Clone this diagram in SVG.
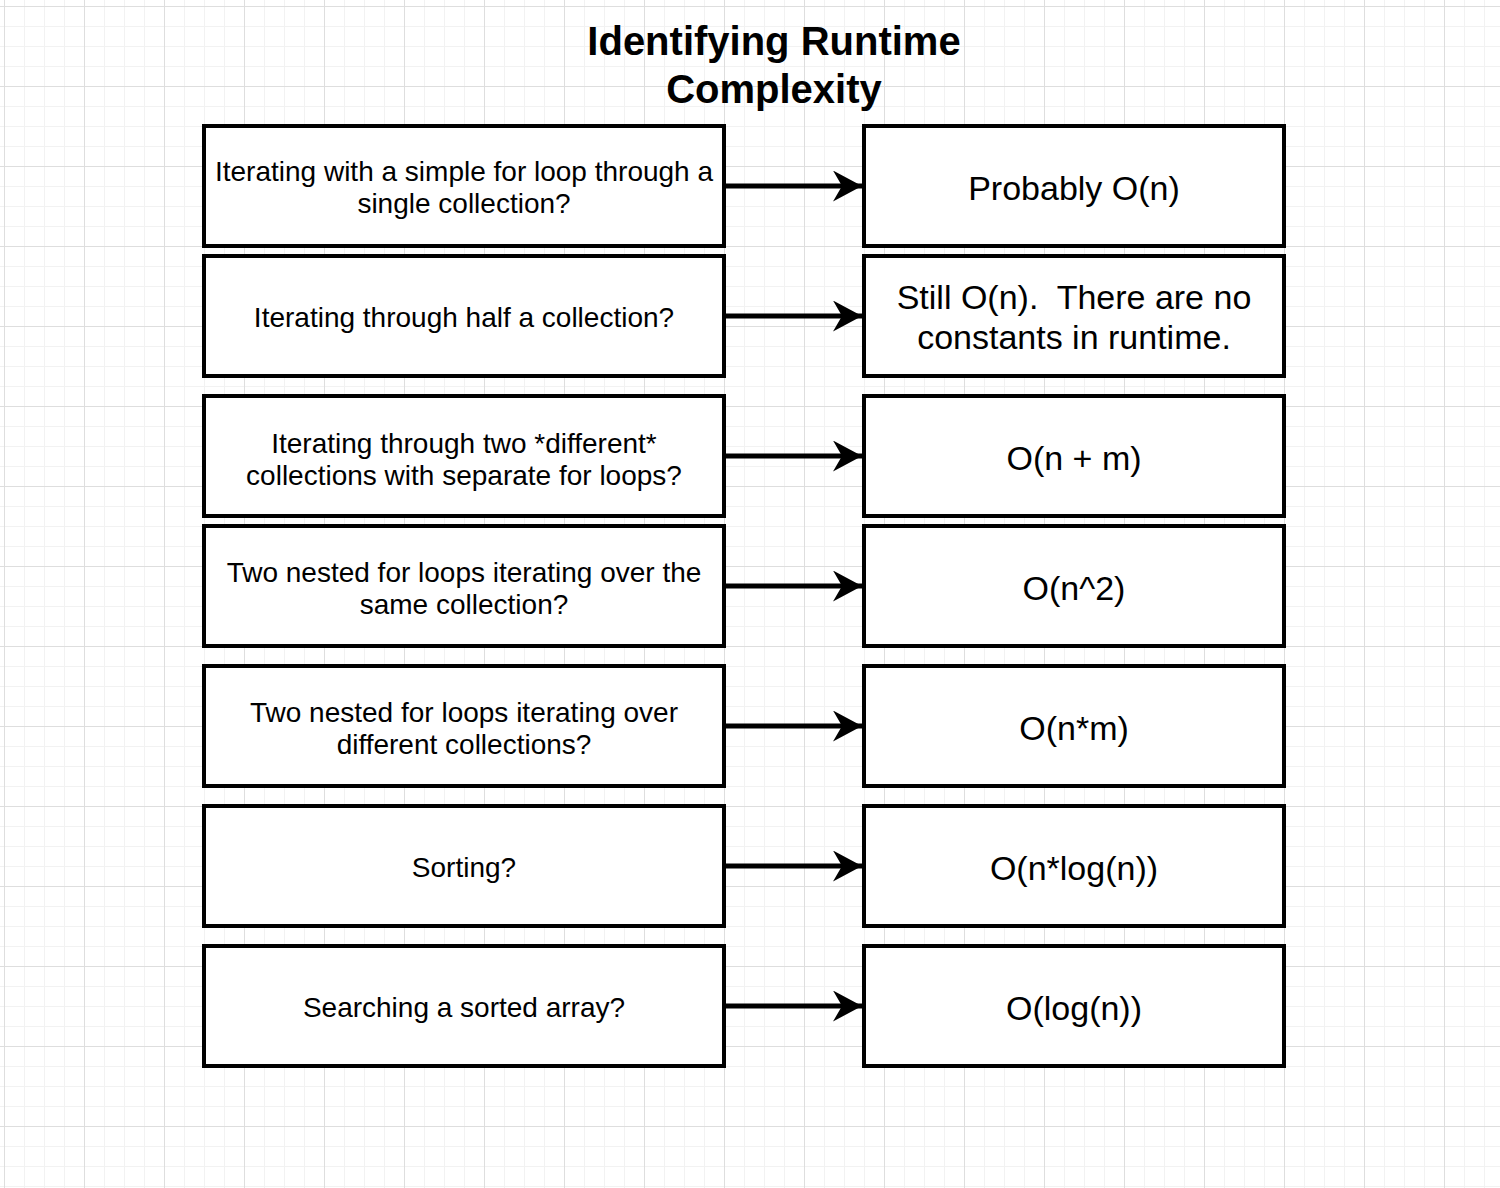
<svg xmlns="http://www.w3.org/2000/svg" width="1500" height="1188" viewBox="0 0 1500 1188">
<style>
.box{fill:#ffffff;stroke:#000000;stroke-width:4}
.q{font-family:"Liberation Sans",Arial,Helvetica,sans-serif;font-size:28px;fill:#000;text-anchor:middle}
.a{font-family:"Liberation Sans",Arial,Helvetica,sans-serif;font-size:34px;fill:#000;text-anchor:middle}
.title{font-family:"Liberation Sans",Arial,Helvetica,sans-serif;font-size:40px;font-weight:bold;fill:#000;text-anchor:middle}
.conn{stroke:#000;stroke-width:5;fill:none}
</style>
<defs>
<pattern id="minor" patternUnits="userSpaceOnUse" x="4" y="6" width="20" height="20">
<path d="M0,0 H20 M0,0 V20" stroke="#f2f2f2" stroke-width="2" fill="none"/>
</pattern>
<pattern id="major" patternUnits="userSpaceOnUse" x="4" y="6" width="80" height="80">
<path d="M0,0.5 H80 M0.5,0 V80" stroke="#dedede" stroke-width="1" fill="none"/>
</pattern>
<marker id="arrow" markerUnits="userSpaceOnUse" markerWidth="30" markerHeight="32" refX="29" refY="15.5" orient="auto">
<path d="M0,0 L29,15.5 L0,31 L9,15.5 Z" fill="#000"/>
</marker>
</defs>
<rect width="1500" height="1188" fill="#ffffff"/>
<rect width="1500" height="1188" fill="url(#minor)"/>
<rect width="1500" height="1188" fill="url(#major)"/>

<g id="title">
<text class="title" x="774" y="55">Identifying Runtime</text>
<text class="title" x="774" y="103">Complexity</text>
</g>

<g id="q1"><rect class="box" x="204" y="126" width="520" height="120"/>
<text class="q" x="464" y="181">Iterating with a simple for loop through a</text>
<text class="q" x="464" y="213">single collection?</text></g>
<g id="q2"><rect class="box" x="204" y="256" width="520" height="120"/>
<text class="q" x="464" y="327">Iterating through half a collection?</text></g>
<g id="q3"><rect class="box" x="204" y="396" width="520" height="120"/>
<text class="q" x="464" y="453">Iterating through two *different*</text>
<text class="q" x="464" y="485">collections with separate for loops?</text></g>
<g id="q4"><rect class="box" x="204" y="526" width="520" height="120"/>
<text class="q" x="464" y="582">Two nested for loops iterating over the</text>
<text class="q" x="464" y="614">same collection?</text></g>
<g id="q5"><rect class="box" x="204" y="666" width="520" height="120"/>
<text class="q" x="464" y="722">Two nested for loops iterating over</text>
<text class="q" x="464" y="754">different collections?</text></g>
<g id="q6"><rect class="box" x="204" y="806" width="520" height="120"/>
<text class="q" x="464" y="877">Sorting?</text></g>
<g id="q7"><rect class="box" x="204" y="946" width="520" height="120"/>
<text class="q" x="464" y="1017">Searching a sorted array?</text></g>

<g id="a1"><rect class="box" x="864" y="126" width="420" height="120"/>
<text class="a" x="1074" y="200">Probably O(n)</text></g>
<g id="a2"><rect class="box" x="864" y="256" width="420" height="120"/>
<text class="a" x="1074" y="309" xml:space="preserve">Still O(n).  There are no</text>
<text class="a" x="1074" y="349">constants in runtime.</text></g>
<g id="a3"><rect class="box" x="864" y="396" width="420" height="120"/>
<text class="a" x="1074" y="470">O(n + m)</text></g>
<g id="a4"><rect class="box" x="864" y="526" width="420" height="120"/>
<text class="a" x="1074" y="600">O(n^2)</text></g>
<g id="a5"><rect class="box" x="864" y="666" width="420" height="120"/>
<text class="a" x="1074" y="740">O(n*m)</text></g>
<g id="a6"><rect class="box" x="864" y="806" width="420" height="120"/>
<text class="a" x="1074" y="880">O(n*log(n))</text></g>
<g id="a7"><rect class="box" x="864" y="946" width="420" height="120"/>
<text class="a" x="1074" y="1020">O(log(n))</text></g>

<g id="connectors">
<path class="conn" d="M726,186 H862" marker-end="url(#arrow)"/>
<path class="conn" d="M726,316 H862" marker-end="url(#arrow)"/>
<path class="conn" d="M726,456 H862" marker-end="url(#arrow)"/>
<path class="conn" d="M726,586 H862" marker-end="url(#arrow)"/>
<path class="conn" d="M726,726 H862" marker-end="url(#arrow)"/>
<path class="conn" d="M726,866 H862" marker-end="url(#arrow)"/>
<path class="conn" d="M726,1006 H862" marker-end="url(#arrow)"/>
</g>
</svg>
